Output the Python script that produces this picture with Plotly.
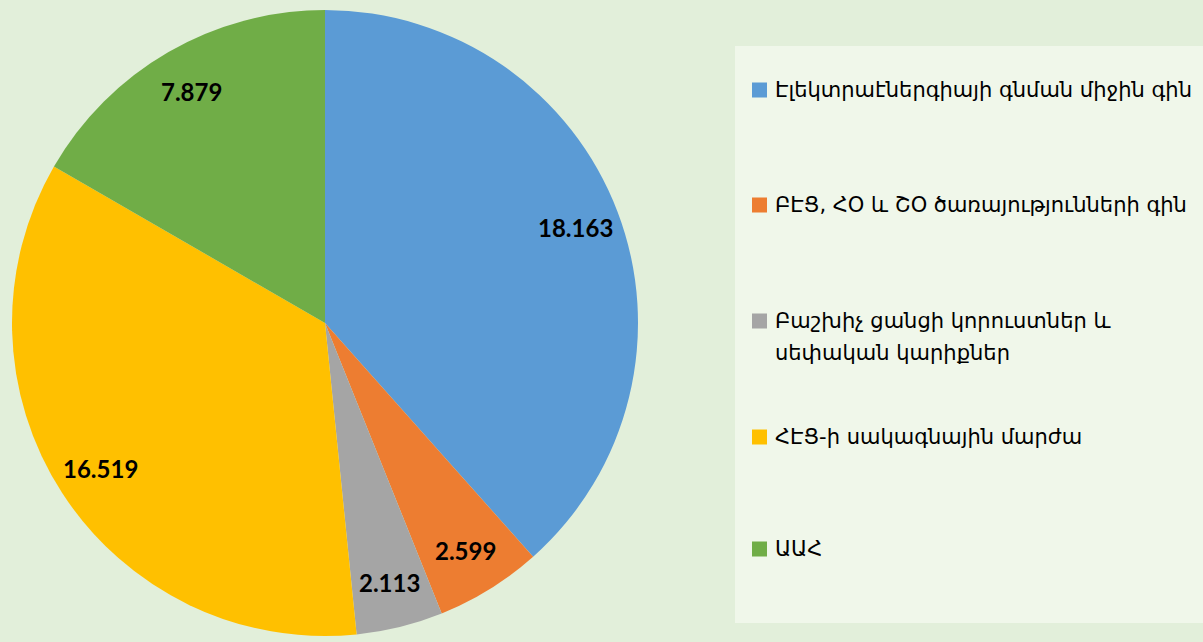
import math
import plotly.graph_objects as go

W, H = 1203, 642

categories = [
    "Էլեկտրաէներգիայի գնման միջին գին",
    "ԲԷՑ, ՀՕ և ՇՕ ծառայությունների գին",
    "Բաշխիչ ցանցի կորուստներ և սեփական կարիքներ",
    "ՀԷՑ-ի սակագնային մարժա",
    "ԱԱՀ",
]
legend_lines = [
    ["Էլեկտրաէներգիայի գնման միջին գին"],
    ["ԲԷՑ, ՀՕ և ՇՕ ծառայությունների գին"],
    ["Բաշխիչ ցանցի կորուստներ և", "սեփական կարիքներ"],
    ["ՀԷՑ-ի սակագնային մարժա"],
    ["ԱԱՀ"],
]
values = [18.163, 2.599, 2.113, 16.519, 7.879]
colors = ["#5b9bd5", "#ed7d31", "#a5a5a5", "#ffc000", "#70ad47"]

BG = "#e2efda"
LEGEND_BG = "#f0f7ea"
FONT = "DejaVu Sans"
LABEL_FONT = "Lato"

# pie geometry (pixels)
cx_px, cy_px, R_px = 325, 323, 313

fig = go.Figure(go.Pie(
    labels=categories,
    values=values,
    marker=dict(colors=colors, line=dict(width=0)),
    sort=False,
    direction="clockwise",
    rotation=0,
    textinfo="none",
    hoverinfo="label+value",
    showlegend=False,
    domain=dict(x=[(cx_px - R_px) / W, (cx_px + R_px) / W],
                y=[1 - (cy_px + R_px) / H, 1 - (cy_px - R_px) / H]),
))

annotations = []
shapes = []

# data labels placed along each slice's mid angle
total = sum(values)
cum = 0.0
for v in values:
    mid = (cum + v / 2) / total * 2 * math.pi
    cum += v
    r = 0.855 * R_px
    x_px = cx_px + r * math.sin(mid)
    y_px = cy_px - r * math.cos(mid)
    annotations.append(dict(
        x=x_px / W, y=1 - y_px / H, xref="paper", yref="paper",
        text=f"<b>{v:.3f}</b>", showarrow=False,
        font=dict(family=LABEL_FONT, size=24, color="black"),
        xanchor="center", yanchor="middle",
    ))

# custom legend box
shapes.append(dict(type="rect", xref="paper", yref="paper",
                   x0=735 / W, x1=1.0, y0=1 - 623 / H, y1=1 - 46 / H,
                   fillcolor=LEGEND_BG, line=dict(width=0), layer="below"))

item_y = [90, 205, 321, 437, 549]
for lines, col, yc in zip(legend_lines, colors, item_y):
    shapes.append(dict(type="rect", xref="paper", yref="paper",
                       x0=752 / W, x1=767 / W,
                       y0=1 - (yc + 7.5) / H, y1=1 - (yc - 7.5) / H,
                       fillcolor=col, line=dict(width=0)))
    for i, t in enumerate(lines):
        ly = yc + i * 32
        annotations.append(dict(
            x=773 / W, y=1 - ly / H, xref="paper", yref="paper",
            text=t, showarrow=False, xanchor="left", yanchor="middle",
            font=dict(family=FONT, size=21, color="black"),
        ))

fig.update_layout(
    width=W, height=H,
    margin=dict(l=0, r=0, t=0, b=0),
    paper_bgcolor=BG, plot_bgcolor=BG,
    annotations=annotations, shapes=shapes,
    showlegend=False,
)

fig.write_html(
    "out.html",
    config={"displayModeBar": False},
    post_script="document.body.style.margin='0';document.body.style.overflow='hidden';",
)
